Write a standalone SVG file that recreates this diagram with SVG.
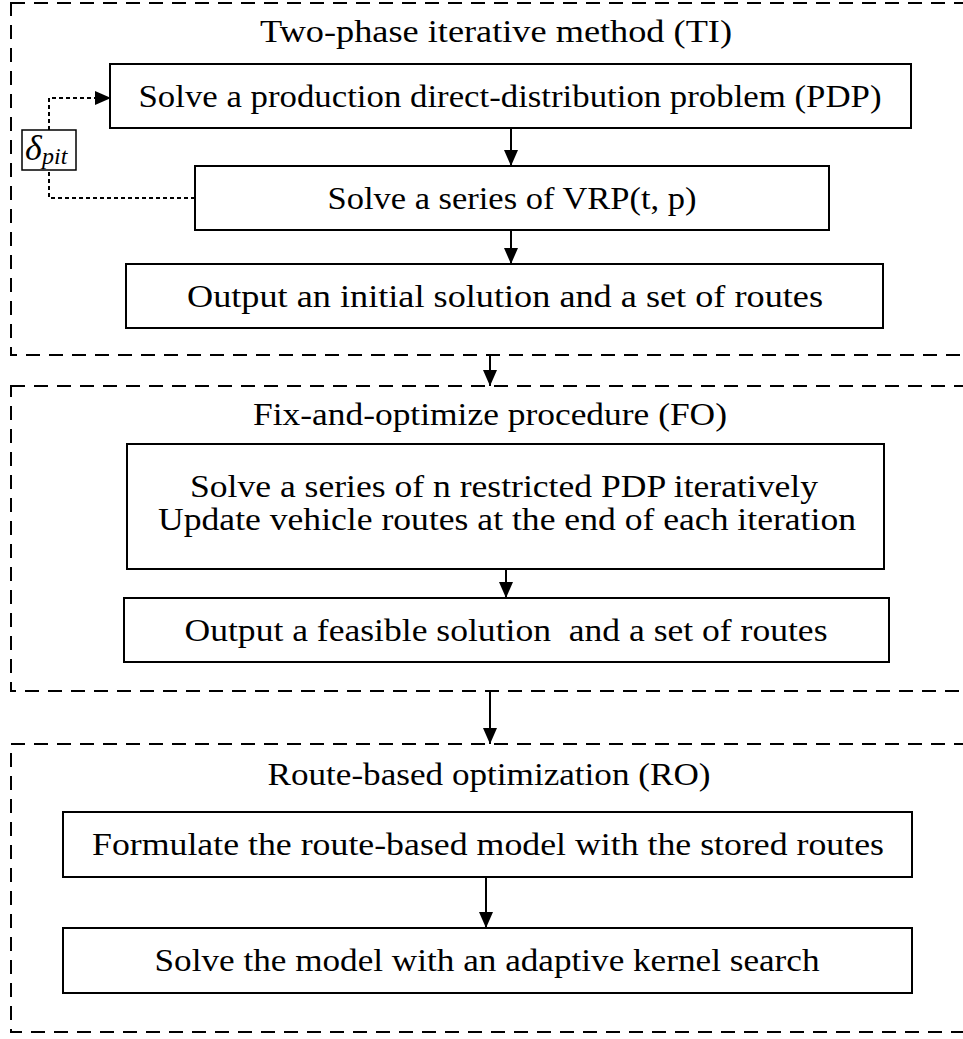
<svg xmlns="http://www.w3.org/2000/svg" width="963" height="1039" viewBox="0 0 963 1039">
<defs>
<style>
.grp{fill:none;stroke:#000;stroke-width:2;stroke-dasharray:14 9}
.box{fill:#fff;stroke:#000;stroke-width:2}
.t{font-family:'Liberation Serif',serif;font-size:31px;fill:#000;text-anchor:middle;white-space:pre}
.c{stroke:#000;stroke-width:2;fill:none}
.d{stroke:#000;stroke-width:2;fill:none;stroke-dasharray:4 3}
</style>
<marker id="ah" viewBox="0 0 16 14" refX="16" refY="7" markerWidth="16" markerHeight="14" markerUnits="userSpaceOnUse" orient="auto">
<path d="M0,0 L16,7 L0,14 Z" fill="#000"/>
</marker>
</defs>
<rect width="963" height="1039" fill="#fff"/>

<g id="group-TI">
<rect class="grp" x="11" y="3" width="1000" height="352"/>
<text class="t" x="496" y="42" textLength="472" lengthAdjust="spacingAndGlyphs">Two-phase iterative method (TI)</text>
</g>
<g id="group-FO">
<rect class="grp" x="11" y="386" width="1000" height="305"/>
<text class="t" x="490" y="425" textLength="474" lengthAdjust="spacingAndGlyphs">Fix-and-optimize procedure (FO)</text>
</g>
<g id="group-RO">
<rect class="grp" x="11" y="744" width="1000" height="288"/>
<text class="t" x="489" y="785" textLength="443" lengthAdjust="spacingAndGlyphs">Route-based optimization (RO)</text>
</g>

<g id="connectors">
<line class="c" x1="511" y1="128" x2="511" y2="166" marker-end="url(#ah)"/>
<line class="c" x1="511" y1="230" x2="511" y2="264" marker-end="url(#ah)"/>
<line class="c" x1="490" y1="355" x2="490" y2="386" marker-end="url(#ah)"/>
<line class="c" x1="506" y1="569" x2="506" y2="598" marker-end="url(#ah)"/>
<line class="c" x1="490" y1="691" x2="490" y2="744" marker-end="url(#ah)"/>
<line class="c" x1="486" y1="877" x2="486" y2="928" marker-end="url(#ah)"/>
<polyline class="d" points="195,198 49,198 49,170"/>
<polyline class="d" points="49,130 49,98 96,98"/>
<path d="M95,91 L111,98 L95,105 Z" fill="#000"/>
</g>

<g id="delta-label">
<rect x="22" y="130" width="54" height="40" fill="#fff" stroke="#000" stroke-width="1.5"/>
<text x="25" y="160" font-family="'Liberation Serif',serif" font-style="italic" font-size="36">δ</text>
<text x="42" y="164" font-family="'Liberation Serif',serif" font-style="italic" font-size="24">pit</text>
</g>

<g id="node-pdp">
<rect class="box" x="110" y="64" width="801" height="64"/>
<text class="t" x="510" y="107" textLength="743" lengthAdjust="spacingAndGlyphs">Solve a production direct-distribution problem (PDP)</text>
</g>
<g id="node-vrp">
<rect class="box" x="195" y="166" width="634" height="64"/>
<text class="t" x="512" y="209" textLength="369" lengthAdjust="spacingAndGlyphs">Solve a series of VRP(t, p)</text>
</g>
<g id="node-initial">
<rect class="box" x="126" y="264" width="757" height="64"/>
<text class="t" x="505" y="307" textLength="636" lengthAdjust="spacingAndGlyphs">Output an initial solution and a set of routes</text>
</g>
<g id="node-restricted">
<rect class="box" x="127" y="444" width="757" height="125"/>
<text class="t" x="504" y="497" textLength="628" lengthAdjust="spacingAndGlyphs">Solve a series of n restricted PDP iteratively</text>
<text class="t" x="507" y="530" textLength="698" lengthAdjust="spacingAndGlyphs">Update vehicle routes at the end of each iteration</text>
</g>
<g id="node-feasible">
<rect class="box" x="124" y="598" width="765" height="64"/>
<text class="t" x="506" y="641" textLength="643" lengthAdjust="spacingAndGlyphs">Output a feasible solution  and a set of routes</text>
</g>
<g id="node-formulate">
<rect class="box" x="63" y="812" width="849" height="65"/>
<text class="t" x="488" y="855" textLength="792" lengthAdjust="spacingAndGlyphs">Formulate the route-based model with the stored routes</text>
</g>
<g id="node-kernel">
<rect class="box" x="63" y="928" width="849" height="65"/>
<text class="t" x="487" y="971" textLength="665" lengthAdjust="spacingAndGlyphs">Solve the model with an adaptive kernel search</text>
</g>
</svg>
